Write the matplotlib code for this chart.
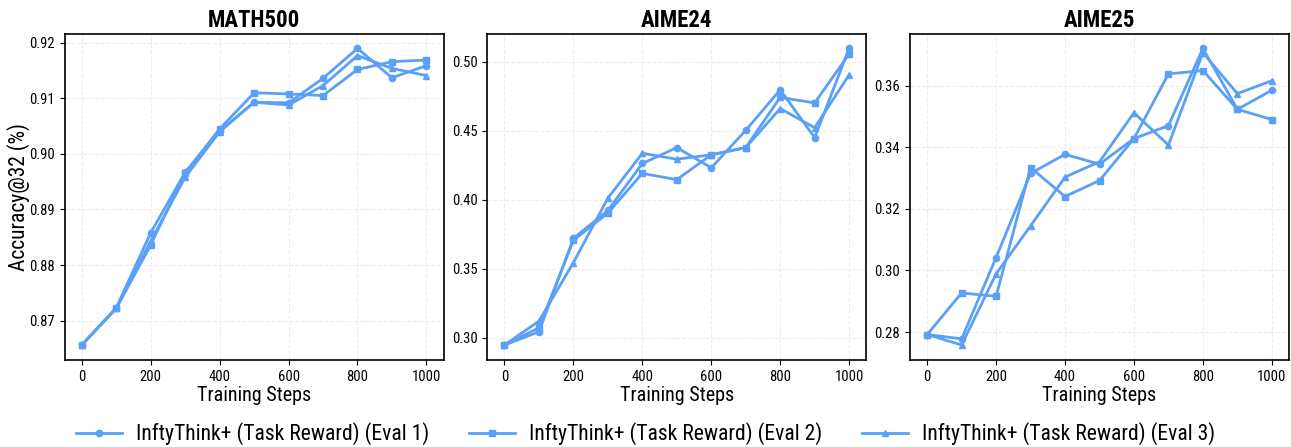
import matplotlib
matplotlib.use("Agg")
import matplotlib.pyplot as plt

plt.rcParams['font.family'] = ['Roboto Condensed', 'Roboto', 'DejaVu Sans']

steps = [0, 100, 200, 300, 400, 500, 600, 700, 800, 900, 1000]
titles = ['MATH500', 'AIME24', 'AIME25']
labels = ['InftyThink+ (Task Reward) (Eval 1)',
          'InftyThink+ (Task Reward) (Eval 2)',
          'InftyThink+ (Task Reward) (Eval 3)']

# MATH500
math_eval1 = [0.8656, 0.8723, 0.8858, 0.8967, 0.9041, 0.9093, 0.9092, 0.9136, 0.9190, 0.9137, 0.9159]
math_eval2 = [0.8656, 0.8722, 0.8836, 0.8966, 0.9045, 0.9110, 0.9108, 0.9105, 0.9152, 0.9166, 0.9169]
math_eval3 = [0.8656, 0.8722, 0.8843, 0.8958, 0.9040, 0.9093, 0.9088, 0.9123, 0.9177, 0.9154, 0.9141]

# AIME24
aime24_eval1 = [0.2947, 0.3043, 0.3719, 0.3922, 0.4262, 0.4377, 0.4231, 0.4502, 0.4796, 0.4449, 0.5096]
aime24_eval2 = [0.2947, 0.3072, 0.3706, 0.3903, 0.4190, 0.4145, 0.4325, 0.4377, 0.4741, 0.4701, 0.5055]
aime24_eval3 = [0.2947, 0.3120, 0.3544, 0.4011, 0.4336, 0.4293, 0.4325, 0.4377, 0.4660, 0.4521, 0.4904]

# AIME25
aime25_eval1 = [0.2792, 0.2778, 0.3042, 0.3315, 0.3377, 0.3345, 0.3428, 0.3470, 0.3721, 0.3523, 0.3585]
aime25_eval2 = [0.2792, 0.2927, 0.2916, 0.3334, 0.3240, 0.3292, 0.3428, 0.3638, 0.3649, 0.3523, 0.3490]
aime25_eval3 = [0.2792, 0.2758, 0.2989, 0.3145, 0.3303, 0.3353, 0.3512, 0.3407, 0.3707, 0.3574, 0.3616]

data = [
    [math_eval1, math_eval2, math_eval3],
    [aime24_eval1, aime24_eval2, aime24_eval3],
    [aime25_eval1, aime25_eval2, aime25_eval3],
]
markers = ['o', 's', '^']
color = '#5aa0f6'

fig, axes = plt.subplots(1, 3, figsize=(12.91, 4.47), dpi=100)
fig.subplots_adjust(left=0.050, right=0.9985, top=0.925, bottom=0.195, wspace=0.115)

handles = []
for ax, title, series in zip(axes, titles, data):
    for vals, mk, lab in zip(series, markers, labels):
        h, = ax.plot(steps, vals, marker=mk, color=color, linewidth=2,
                     markersize=4.5, label=lab)
        if ax is axes[0]:
            handles.append(h)
    ax.set_title(title, fontsize=16.5, fontweight='bold', pad=5)
    ax.set_xlabel('Training Steps', fontsize=14.5, labelpad=2)
    ax.grid(True, linestyle='--', color='#ececec', linewidth=0.8)
    ax.tick_params(labelsize=10.5)
    ax.set_xticks([0, 200, 400, 600, 800, 1000])
    for s in ax.spines.values():
        s.set_linewidth(1.2)

axes[0].set_ylabel('Accuracy@32 (%)', fontsize=15.5, labelpad=-1)
axes[0].set_yticks([0.87, 0.88, 0.89, 0.90, 0.91, 0.92])
axes[0].yaxis.set_major_formatter(plt.FormatStrFormatter('%.2f'))
axes[1].yaxis.set_major_formatter(plt.FormatStrFormatter('%.2f'))
axes[2].yaxis.set_major_formatter(plt.FormatStrFormatter('%.2f'))

fig.legend(handles, labels, loc='lower center', ncol=3, frameon=False,
           fontsize=15.6, bbox_to_anchor=(0.5, -0.04), columnspacing=1.85,
           handlelength=2.1, handletextpad=0.65)

fig.savefig('out.png', dpi=100)
